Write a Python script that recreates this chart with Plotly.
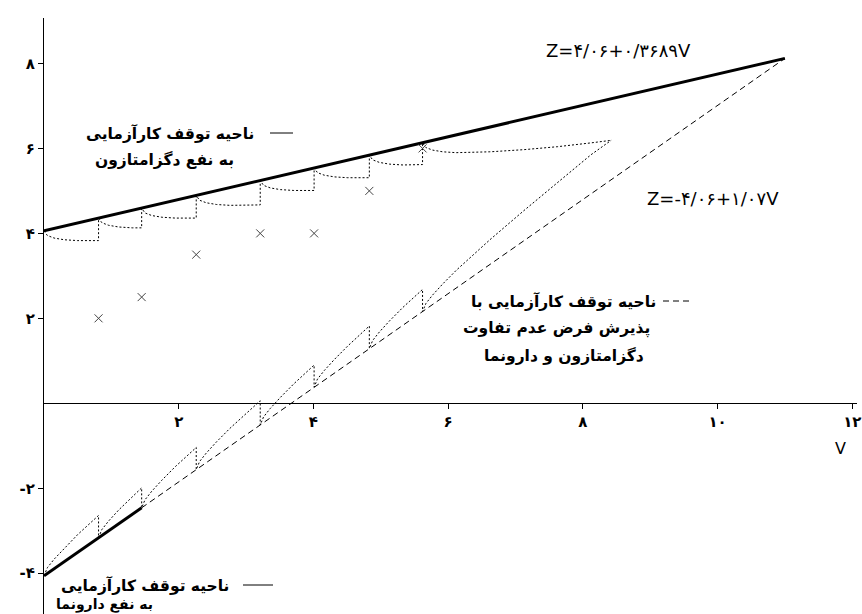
import plotly.graph_objects as go

# ---- data ----
look_V = [0.81, 1.45, 2.26, 3.21, 4.01, 4.83, 5.62]
look_Z = [2.0, 2.5, 3.5, 4.0, 4.0, 5.0, 6.0]

upper_V = [0.0, 11.0]
upper_Z = [4.06, 8.12]

lower_thick_V = [0.0, 1.45]
lower_thick_Z = [-4.06, -2.46]
lower_dash_V = [1.45, 11.0]
lower_dash_Z = [-2.46, 8.12]

ragged_up_V = [0.0, 0.05, 0.15, 0.3, 0.5, 0.81, 0.81,
               0.86, 0.96, 1.11, 1.31, 1.45, 1.45,
               1.50, 1.60, 1.75, 1.95, 2.26, 2.26,
               2.31, 2.41, 2.56, 2.76, 3.21, 3.21,
               3.26, 3.36, 3.51, 3.71, 4.01, 4.01,
               4.06, 4.16, 4.31, 4.51, 4.83, 4.83,
               4.88, 4.98, 5.13, 5.33, 5.62, 5.62,
               5.67, 5.77, 5.92, 6.12, 6.62, 7.12, 7.62, 8.12, 8.42]
ragged_up_Z = [4.06, 3.95, 3.89, 3.85, 3.83, 3.83, 4.36,
               4.25, 4.19, 4.15, 4.13, 4.13, 4.59,
               4.48, 4.42, 4.38, 4.36, 4.36, 4.89,
               4.78, 4.72, 4.68, 4.66, 4.67, 5.24,
               5.13, 5.07, 5.03, 5.01, 5.01, 5.54,
               5.43, 5.37, 5.33, 5.31, 5.31, 5.84,
               5.73, 5.67, 5.63, 5.61, 5.62, 6.13,
               6.02, 5.96, 5.92, 5.90, 5.92, 5.97, 6.04, 6.13, 6.19]

ragged_lo_V = [0.0, 0.05, 0.15, 0.3, 0.5, 0.81, 0.81,
               0.86, 0.96, 1.11, 1.31, 1.45, 1.45,
               1.50, 1.60, 1.75, 1.95, 2.26, 2.26,
               2.31, 2.41, 2.56, 2.76, 3.21, 3.21,
               3.26, 3.36, 3.51, 3.71, 4.01, 4.01,
               4.06, 4.16, 4.31, 4.51, 4.83, 4.83,
               4.88, 4.98, 5.13, 5.33, 5.62, 5.62,
               5.67, 5.77, 5.92, 6.12, 6.62, 7.12, 7.62, 8.12, 8.42]
ragged_lo_Z = [-4.06, -3.87, -3.67, -3.41, -3.09, -2.64, -3.16,
               -2.97, -2.77, -2.51, -2.19, -1.99, -2.46,
               -2.27, -2.07, -1.81, -1.49, -1.04, -1.56,
               -1.37, -1.17, -0.91, -0.59, 0.06, -0.51,
               -0.32, -0.12, 0.14, 0.46, 0.90, 0.38,
               0.57, 0.77, 1.03, 1.35, 1.82, 1.29,
               1.48, 1.68, 1.94, 2.26, 2.68, 2.16,
               2.35, 2.55, 2.81, 3.13, 3.85, 4.53, 5.20, 5.85, 6.19]

x_tickvals = [2, 4, 6, 8, 10, 12]
x_ticktext = ["۲", "۴", "۶", "۸", "۱۰", "۱۲"]
y_tickvals = [-4, -2, 2, 4, 6, 8]
y_ticktext = ["-۴", "-۲", "۲", "۴", "۶", "۸"]

eq_upper = "Z=۴/۰۶+۰/۳۶۸۹V"
eq_lower = "Z=-۴/۰۶+۱/۰۷V"
lab_up1 = "ناحیه توقف کارآزمایی"
lab_up2 = "به نفع دگزامتازون"
lab_lo1 = "ناحیه توقف کارآزمایی"
lab_lo2 = "به نفع دارونما"
lab_mid1 = "ناحیه توقف کارآزمایی با"
lab_mid2 = "پذیرش فرض عدم تفاوت"
lab_mid3 = "دگزامتازون و دارونما"

# ---- layout geometry ----
W, H = 862, 614
ML, MR, MT, MB = 44, 5, 18, 0
XR = [0, 12.07]
YR = [-4.96, 9.07]
pw = W - ML - MR
ph = H - MT - MB

def v(px):
    return XR[0] + (px - ML) / pw * (XR[1] - XR[0])

def z(py):
    return YR[1] - (py - MT) / ph * (YR[1] - YR[0])

FONT = "DejaVu Sans"
fig = go.Figure()

fig.add_trace(go.Scatter(x=ragged_up_V, y=ragged_up_Z, mode="lines",
                         line=dict(color="black", width=1, dash="2px,2px")))
fig.add_trace(go.Scatter(x=ragged_lo_V, y=ragged_lo_Z, mode="lines",
                         line=dict(color="black", width=1, dash="2px,2px")))
fig.add_trace(go.Scatter(x=lower_dash_V, y=lower_dash_Z, mode="lines",
                         line=dict(color="black", width=1, dash="6px,4px")))
fig.add_trace(go.Scatter(x=upper_V, y=upper_Z, mode="lines",
                         line=dict(color="black", width=3)))
fig.add_trace(go.Scatter(x=lower_thick_V, y=lower_thick_Z, mode="lines",
                         line=dict(color="black", width=3)))
fig.add_trace(go.Scatter(x=look_V, y=look_Z, mode="markers",
                         marker=dict(symbol="x-thin", size=8,
                                     line=dict(color="#444", width=1))))

def txt(s, px, py, size=15.5, anchor="center", bold=True):
    if bold:
        s = "<b>" + s + "</b>"
    fig.add_annotation(x=v(px), y=z(py), text=s, showarrow=False,
                       xanchor=anchor, yanchor="middle",
                       font=dict(family=FONT, size=size, color="black"))

txt(eq_upper, 618, 50, 18, bold=False)
txt(eq_lower, 713, 198, 18, bold=False)
txt(lab_up1, 256, 133, anchor="right")
txt(lab_up2, 236, 159, anchor="right")
txt(lab_lo1, 231, 585, anchor="right")
txt(lab_lo2, 155, 604, 14, anchor="right")
txt(lab_mid1, 658, 301, anchor="right")
txt(lab_mid2, 652, 328, anchor="right")
txt(lab_mid3, 646, 355, anchor="right")
txt("Z", 12, 14, 14, bold=False)
txt("V", 840, 448, 16, bold=False)

def seg(x0, x1, py, dash="solid"):
    fig.add_shape(type="line", x0=v(x0), x1=v(x1), y0=z(py), y1=z(py),
                  line=dict(color="black", width=1, dash=dash))

seg(270, 293, 133)
seg(243, 273, 585)
seg(663, 689, 301, "6px,4px")

fig.update_layout(
    width=W, height=H, margin=dict(l=ML, r=MR, t=MT, b=MB),
    paper_bgcolor="white", plot_bgcolor="white", showlegend=False,
    xaxis=dict(range=XR, anchor="free", position=(0 - YR[0]) / (YR[1] - YR[0]),
               showline=True, linecolor="black", linewidth=1,
               ticks="outside", ticklen=5, tickcolor="black",
               tickvals=x_tickvals, ticktext=x_ticktext,
               tickfont=dict(family=FONT, size=15, color="black", weight="bold"),
               showgrid=False, zeroline=False, automargin=False),
    yaxis=dict(range=YR, showline=True, linecolor="black", linewidth=1,
               ticks="outside", ticklen=5, tickcolor="black",
               tickvals=y_tickvals, ticktext=y_ticktext,
               tickfont=dict(family=FONT, size=15, color="black", weight="bold"),
               showgrid=False, zeroline=False, automargin=False),
)

fig.write_html("out.html", config={"displayModeBar": False},
               post_script="document.body.style.margin='0';document.body.style.overflow='hidden';")
